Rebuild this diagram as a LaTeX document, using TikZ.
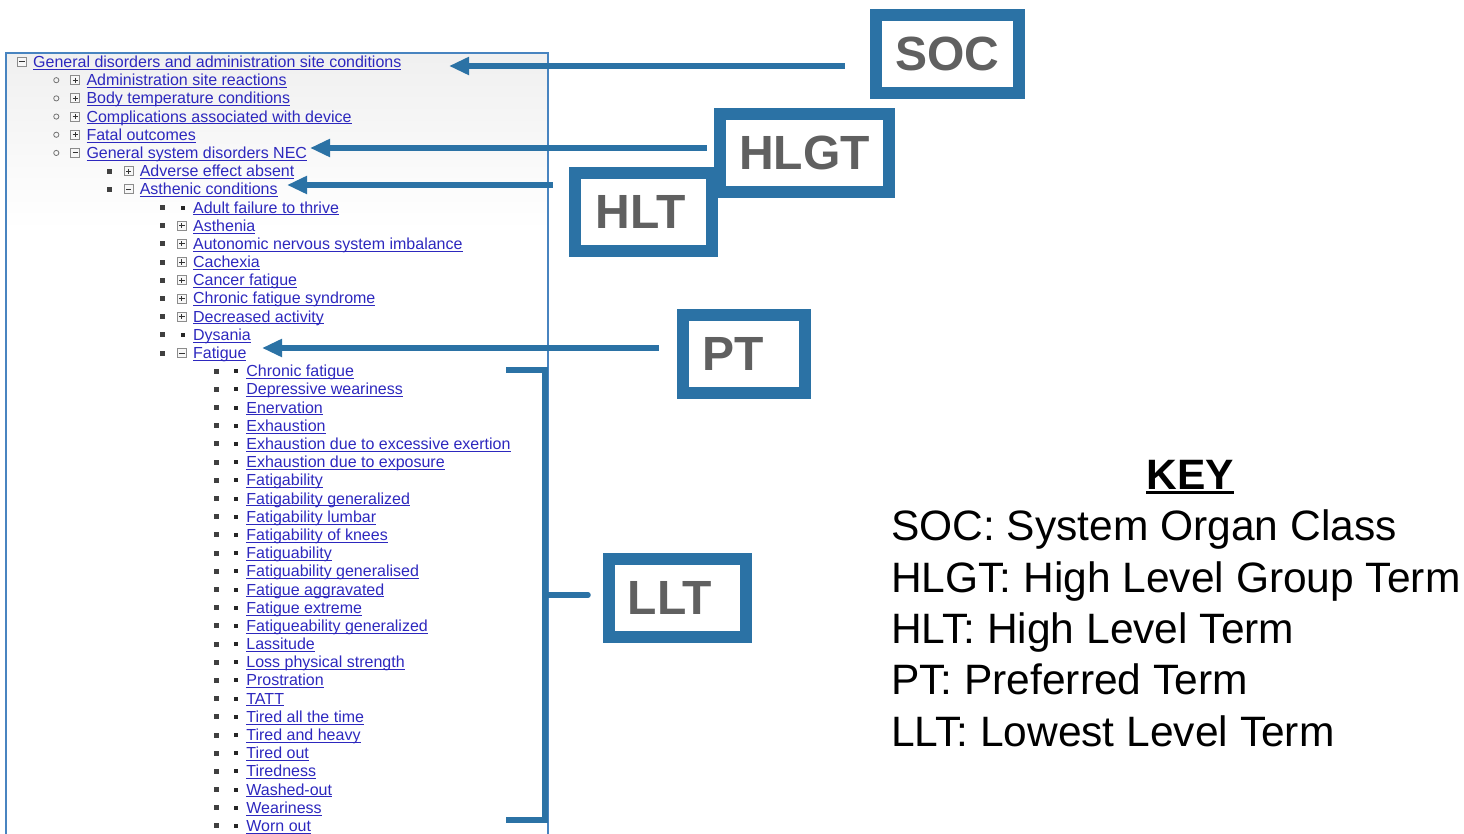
\documentclass[tikz,border=0pt]{standalone}
\usepackage{fontspec}
\setmainfont{Liberation Sans}
\usetikzlibrary{arrows.meta,positioning}

\definecolor{medblue}{RGB}{43,114,165}
\definecolor{panelblue}{RGB}{72,132,192}
\definecolor{linkblue}{RGB}{45,40,190}
\definecolor{labelgrey}{RGB}{96,96,96}

% underlined text: depth, thickness, text
\newcommand{\ulbox}[3]{\setbox0\hbox{#3}\rlap{\rule[-#1]{\wd0}{#2}}\box0}

\tikzset{
  termbox/.style={draw=medblue, line width=12pt, fill=white, minimum height=78pt,
    inner sep=0pt, text=labelgrey, font=\fontsize{48}{48}\selectfont\bfseries},
  callarrow/.style={draw=medblue, line width=6pt, {Triangle[length=20pt,width=17pt]}-},
  bracket/.style={draw=medblue, line width=5.5pt},
  panel/.style={draw=panelblue, line width=1.5pt},
  rowtext/.style={anchor=base west, inner sep=0pt, text=linkblue,
    font=\fontsize{16}{18}\selectfont},
  iconbox/.style={draw=black!45, fill=black!3, line width=0.8pt},
  iconsign/.style={draw=black!80, line width=1pt},
  keyline/.style={anchor=base west, inner sep=0pt, font=\fontsize{42.5}{50}\selectfont},
}

\begin{document}
\begin{tikzpicture}[x=1pt,y=-1pt]
\useasboundingbox (0,0) rectangle (1464,834);

% tree panel
\shade[top color=black!6, bottom color=white] (6,53) rectangle (548,230);
\draw[panel] (6,840) -- (6,53) -- (548,53) -- (548,840);

% tree rows
\foreach \lev/\ico/\txt [count=\i from 0] in {
  0/m/General disorders and administration site conditions,
  1/p/Administration site reactions,
  1/p/Body temperature conditions,
  1/p/Complications associated with device,
  1/p/Fatal outcomes,
  1/m/General system disorders NEC,
  2/p/Adverse effect absent,
  2/m/Asthenic conditions,
  3/d/Adult failure to thrive,
  3/p/Asthenia,
  3/p/Autonomic nervous system imbalance,
  3/p/Cachexia,
  3/p/Cancer fatigue,
  3/p/Chronic fatigue syndrome,
  3/p/Decreased activity,
  3/d/Dysania,
  3/m/Fatigue,
  4/d/Chronic fatigue,
  4/d/Depressive weariness,
  4/d/Enervation,
  4/d/Exhaustion,
  4/d/Exhaustion due to excessive exertion,
  4/d/Exhaustion due to exposure,
  4/d/Fatigability,
  4/d/Fatigability generalized,
  4/d/Fatigability lumbar,
  4/d/Fatigability of knees,
  4/d/Fatiguability,
  4/d/Fatiguability generalised,
  4/d/Fatigue aggravated,
  4/d/Fatigue extreme,
  4/d/Fatigueability generalized,
  4/d/Lassitude,
  4/d/Loss physical strength,
  4/d/Prostration,
  4/d/TATT,
  4/d/Tired all the time,
  4/d/Tired and heavy,
  4/d/Tired out,
  4/d/Tiredness,
  4/d/Washed-out,
  4/d/Weariness,
  4/d/Worn out}{
  \pgfmathsetmacro\ry{62+18.19*\i}
  \pgfmathsetmacro\rx{33+53.3*\lev}
  \node[rowtext] (r\i) at (\rx,\ry+5.5) {\ulbox{2.2pt}{0.9pt}{\txt}};
  \ifnum\lev=1 \draw[black!55, line width=0.8pt] (\rx-30,\ry) circle (2.6pt); \fi
  \ifnum\lev>1 \fill[black!75] (\rx-32.5,\ry-2.5) rectangle ++(5,5); \fi
  \if d\ico
    \fill[black!85] (\rx-12,\ry-2) rectangle ++(4,4);
  \else
    \draw[iconbox] (\rx-15.5,\ry-4.5) rectangle ++(9,9);
    \draw[iconsign] (\rx-13.6,\ry) -- (\rx-8.4,\ry);
    \if p\ico \draw[iconsign] (\rx-11,\ry-2.6) -- (\rx-11,\ry+2.6); \fi
  \fi
}

% level boxes
\node[termbox, minimum width=143pt] (soc) at (947.5,54) {SOC};
\node[termbox, minimum width=169pt] (hlgt) at (804.5,153) {HLGT};
\node[termbox, minimum width=137pt] (hlt) at (643.5,212) {HLT\kern6pt};
\node[termbox, minimum width=122pt] (pt) at (744,354) {PT\kern22pt};
\node[termbox, minimum width=137pt] (llt) at (677.5,598) {LLT\kern15pt};

% arrows to the rows
\coordinate (socTip) at (449,66);
\coordinate (hlgtTip) at (310,148);
\coordinate (hltTip) at (287,185);
\coordinate (ptTip) at (262,348);
\draw[callarrow, shorten >=25pt] (socTip) -- (socTip -| soc.west);
\draw[callarrow, shorten >=7pt] (hlgtTip) -- (hlgtTip -| hlgt.west);
\draw[callarrow, shorten >=16pt] (hltTip) -- (hltTip -| hlt.west);
\draw[callarrow, shorten >=18pt] (ptTip) -- (ptTip -| pt.west);

% bracket round the lowest level terms
\draw[bracket] (506,370) -| (545,820) -- (506,820);
\coordinate (lltMid) at (545,595);
\draw[bracket, line cap=round, shorten >=15pt] (lltMid) -- (lltMid -| llt.west);

% key
\node[anchor=base, inner sep=0pt, font=\fontsize{42.5}{50}\selectfont\bfseries] (key) at (1190,489) {\ulbox{5pt}{3pt}{KEY}};
\node[keyline] (k1) at (891,540) {SOC: System Organ Class};
\node[keyline] (k2) at (891,592) {HLGT: High Level Group Term};
\node[keyline] (k3) at (891,643) {HLT: High Level Term};
\node[keyline] (k4) at (891,694) {PT: Preferred Term};
\node[keyline] (k5) at (891,746) {LLT: Lowest Level Term};
\end{tikzpicture}
\end{document}
